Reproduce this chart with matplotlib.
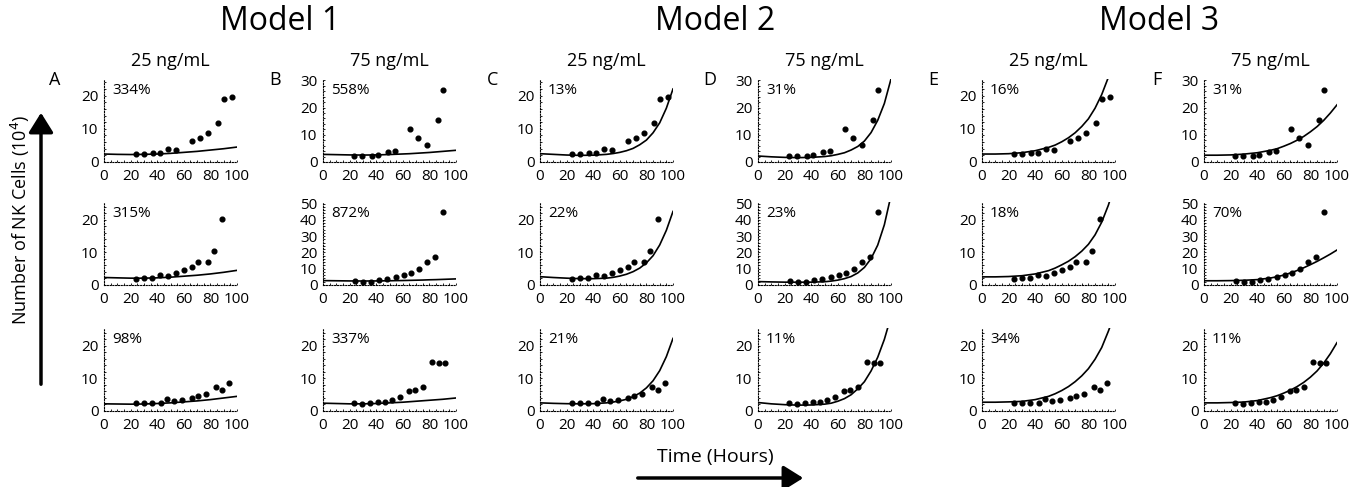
import matplotlib
matplotlib.use('Agg')
import matplotlib.pyplot as plt
from matplotlib.ticker import MultipleLocator

plt.rcParams['font.family'] = ['Open Sans', 'DejaVu Sans']

# ---------------- measured NK cell counts (10^4) ----------------
time_r1_25 = [24, 30, 37, 42, 48, 54, 66, 72, 78, 86, 90, 96]
cells_r1_25 = [2.3, 2.4, 2.6, 2.6, 4.0, 3.5, 6.3, 7.3, 8.7, 11.6, 19.1, 19.5]
time_r1_75 = [23.5, 29.5, 37, 41.5, 48.5, 54.5, 65.5, 71.5, 78, 86.5, 90]
cells_r1_75 = [2.2, 2.2, 2.3, 2.7, 3.7, 4.0, 12.2, 9.0, 6.2, 15.6, 26.3]

time_r2_25 = [24, 30, 36, 42, 48, 54, 60, 66, 71, 78, 83, 89]
cells_r2_25 = [1.9, 2.0, 2.1, 3.0, 2.8, 3.6, 4.6, 5.5, 7.2, 7.1, 10.4, 20.2]
time_r2_75 = [24, 30, 36, 42, 48, 55, 61, 66, 72, 78, 84, 90]
cells_r2_75 = [2.5, 2.1, 2.1, 2.9, 3.5, 5.2, 6.3, 7.3, 9.8, 14.4, 17.3, 44.8]

time_r3_25 = [24, 30, 36, 43, 47, 53, 59, 66, 71, 77, 84, 89, 94]
cells_r3_25 = [2.4, 2.5, 2.5, 2.6, 3.7, 3.0, 3.5, 4.0, 4.5, 5.3, 7.3, 6.5, 8.5]
time_r3_75 = [23, 29, 35, 41.5, 46.5, 52, 58, 64.5, 69.5, 75.5, 82, 87, 92]
cells_r3_75 = [2.4, 2.0, 2.4, 2.8, 2.8, 3.5, 4.3, 6.0, 6.5, 7.5, 15.0, 14.7, 14.7]

curve_t = [0, 10, 20, 30, 40, 50, 55, 60, 65, 70, 75, 80, 85, 90, 95, 100]

m1_r1_25 = [2.4, 2.3, 2.25, 2.3, 2.4, 2.6, 2.75, 2.9, 3.05, 3.2, 3.4, 3.6, 3.8, 4.0, 4.25, 4.5]
m1_r1_75 = [2.8, 2.7, 2.6, 2.55, 2.6, 2.75, 2.85, 2.95, 3.05, 3.2, 3.35, 3.5, 3.7, 3.9, 4.1, 4.3]
m1_r2_25 = [2.3, 2.2, 2.1, 2.1, 2.2, 2.4, 2.55, 2.7, 2.85, 3.0, 3.2, 3.4, 3.65, 3.9, 4.2, 4.5]
m1_r2_75 = [2.7, 2.6, 2.5, 2.45, 2.5, 2.6, 2.7, 2.75, 2.85, 2.95, 3.05, 3.2, 3.3, 3.45, 3.6, 3.75]
m1_r3_25 = [2.2, 2.15, 2.1, 2.15, 2.3, 2.5, 2.65, 2.8, 2.95, 3.1, 3.3, 3.5, 3.75, 4.0, 4.25, 4.5]
m1_r3_75 = [2.4, 2.3, 2.2, 2.2, 2.3, 2.5, 2.6, 2.7, 2.85, 3.0, 3.15, 3.3, 3.45, 3.6, 3.8, 4.0]

m2_r1_25 = [2.5, 2.3, 2.1, 2.0, 2.05, 2.3, 2.55, 2.9, 3.4, 4.1, 5.2, 6.6, 8.8, 11.8, 16.2, 22.0]
m2_r1_75 = [2.2, 1.9, 1.7, 1.6, 1.7, 2.0, 2.3, 2.8, 3.4, 4.4, 5.7, 7.7, 10.8, 15.3, 21.5, 30.5]
m2_r2_25 = [2.55, 2.3, 2.1, 1.95, 1.95, 2.1, 2.35, 2.75, 3.3, 4.1, 5.2, 6.8, 9.0, 12.3, 16.8, 22.6]
m2_r2_75 = [2.1, 1.9, 1.75, 1.7, 1.75, 2.0, 2.4, 3.0, 3.9, 5.2, 7.4, 10.8, 16.2, 24.5, 37.0, 55.0]
m2_r3_25 = [2.5, 2.35, 2.25, 2.2, 2.25, 2.5, 2.75, 3.1, 3.6, 4.4, 5.5, 7.1, 9.3, 12.4, 16.7, 22.3]
m2_r3_75 = [2.6, 2.2, 1.95, 1.8, 1.85, 2.1, 2.4, 3.0, 3.8, 5.0, 6.8, 9.0, 12.3, 16.5, 22.0, 29.0]

m3_r1_25 = [2.4, 2.4, 2.5, 2.8, 3.4, 4.4, 5.1, 6.1, 7.3, 8.8, 10.7, 13.0, 16.2, 20.3, 25.5, 32.0]
m3_r1_75 = [2.5, 2.5, 2.6, 2.9, 3.4, 4.3, 4.9, 5.8, 6.8, 8.0, 9.4, 11.1, 13.0, 15.3, 18.0, 21.0]
m3_r2_25 = [2.5, 2.5, 2.6, 2.85, 3.4, 4.4, 5.2, 6.2, 7.3, 8.7, 10.4, 12.5, 15.4, 19.3, 24.5, 31.0]
m3_r2_75 = [2.6, 2.6, 2.7, 2.9, 3.3, 4.3, 5.1, 6.1, 7.4, 8.9, 10.6, 12.5, 14.5, 16.7, 19.0, 21.5]
m3_r3_25 = [2.7, 2.7, 2.8, 2.95, 3.5, 4.5, 5.3, 6.3, 7.5, 9.0, 10.8, 13.0, 15.9, 19.5, 24.5, 30.0]
m3_r3_75 = [2.5, 2.5, 2.6, 2.75, 3.2, 4.1, 4.7, 5.5, 6.4, 7.5, 8.8, 10.4, 12.3, 14.7, 17.6, 21.0]

# percent error labels
err_m1 = [['334%', '558%'], ['315%', '872%'], ['98%', '337%']]
err_m2 = [['13%', '31%'], ['22%', '23%'], ['21%', '11%']]
err_m3 = [['16%', '31%'], ['18%', '70%'], ['34%', '11%']]

models = ['Model 1', 'Model 2', 'Model 3']
concs = ['25 ng/mL', '75 ng/mL']
letters = ['A', 'B', 'C', 'D', 'E', 'F']

data = [[(time_r1_25, cells_r1_25), (time_r1_75, cells_r1_75)],
        [(time_r2_25, cells_r2_25), (time_r2_75, cells_r2_75)],
        [(time_r3_25, cells_r3_25), (time_r3_75, cells_r3_75)]]
fits = [[[m1_r1_25, m1_r1_75], [m1_r2_25, m1_r2_75], [m1_r3_25, m1_r3_75]],
        [[m2_r1_25, m2_r1_75], [m2_r2_25, m2_r2_75], [m2_r3_25, m2_r3_75]],
        [[m3_r1_25, m3_r1_75], [m3_r2_25, m3_r2_75], [m3_r3_25, m3_r3_75]]]
errs = [err_m1, err_m2, err_m3]

# y-limits / ticks per row for the 75 ng/mL column
ylims = [[25, 30.5], [25.5, 51], [25.5, 25.5]]
yticks = [[[0, 10, 20], [0, 10, 20, 30]],
          [[0, 10, 20], [0, 10, 20, 30, 40, 50]],
          [[0, 10, 20], [0, 10, 20]]]

W, H = 1368, 487
fig = plt.figure(figsize=(W / 100, H / 100), dpi=100)

col_left = [104, 323, 540, 758, 982, 1204]
col_w = 133
row_top = [79, 202, 328]
row_h = 83

for m in range(3):
    for c in range(2):
        col = 2 * m + c
        for r in range(3):
            left = col_left[col]
            top = row_top[r]
            ax = fig.add_axes([left / W, 1 - (top + row_h) / H, col_w / W, row_h / H])
            t, y = data[r][c]
            ax.plot(curve_t, fits[m][r][c], color='black', lw=1.2)
            ax.plot(t, y, 'o', color='black', ms=3.4, clip_on=False)
            ax.set_xlim(0, 100)
            ax.set_ylim(0, ylims[r][c])
            ax.set_xticks([0, 20, 40, 60, 80, 100])
            ax.set_yticks(yticks[r][c])
            ax.xaxis.set_minor_locator(MultipleLocator(5))
            ax.yaxis.set_minor_locator(MultipleLocator(2))
            ax.tick_params(which='both', direction='in', length=1.5, width=0.6,
                           labelsize=11, pad=4)
            ax.tick_params(axis='x', pad=5)
            for s in ['top', 'right']:
                ax.spines[s].set_visible(False)
            for s in ['left', 'bottom']:
                ax.spines[s].set_linestyle((0, (1, 1.5)))
                ax.spines[s].set_linewidth(0.8)
            ax.text(0.06, 0.86, errs[m][r][c], transform=ax.transAxes,
                    fontsize=11, ha='left', va='center')

        # column title and panel letter
        cx = col_left[col] + col_w / 2
        fig.text(cx / W, 1 - 61 / H, concs[c], fontsize=13, ha='center', va='center')
        letter_x = [55, 275, 493, 710, 933, 1157][col]
        fig.text(letter_x / W, 1 - 80 / H, letters[col], fontsize=13, ha='center', va='center')

    mx = (col_left[2 * m] + col_left[2 * m + 1] + col_w) / 2
    fig.text(mx / W, 1 - 21 / H, models[m], fontsize=23, ha='center', va='center')

fig.text(20 / W, 1 - 220 / H, 'Number of NK Cells (10$^4$)', rotation=90,
         fontsize=13, ha='center', va='center')
fig.text(715 / W, 1 - 457 / H, 'Time (Hours)', fontsize=14, ha='center', va='center')

fig.patches.append(matplotlib.patches.FancyArrowPatch(
    (41 / W, 1 - 387 / H), (41 / W, 1 - 110 / H), transform=fig.transFigure,
    arrowstyle='-|>,head_length=8,head_width=5', lw=2.5, color='black', mutation_scale=1.5))
fig.patches.append(matplotlib.patches.FancyArrowPatch(
    (635 / W, 1 - 478 / H), (806 / W, 1 - 478 / H), transform=fig.transFigure,
    arrowstyle='-|>,head_length=8,head_width=5', lw=2.5, color='black', mutation_scale=1.5))

fig.savefig('out.png', dpi=100)
